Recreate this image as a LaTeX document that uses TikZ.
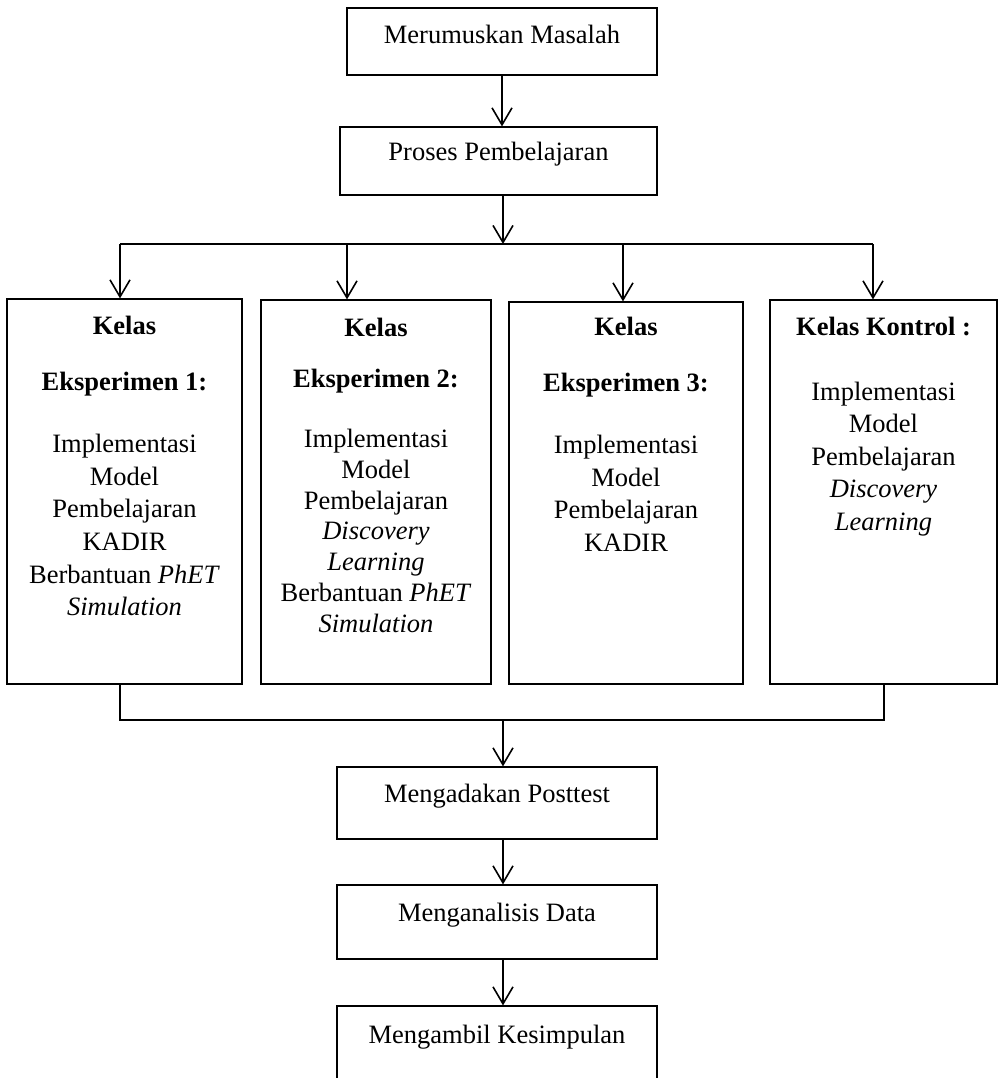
\documentclass[tikz,border=0pt]{standalone}
\usepackage{fontspec}
\setmainfont{Liberation Serif}
\usetikzlibrary{arrows.meta}

\begin{document}
\begin{tikzpicture}[x=0.5pt, y=-0.5pt,
    box/.style={draw, rectangle, line width=0.6pt, inner sep=0pt, font=\fontsize{13.25pt}{16.3pt}\selectfont},
    kelasbox/.style={draw, rectangle, line width=0.6pt, inner sep=0pt},
    isi/.style={anchor=north, inner sep=0pt, align=center, yshift=-8.5pt, font=\fontsize{13.25pt}{16.3pt}\selectfont},
    arr/.style={-{Straight Barb[length=8.5pt, width=10pt]}, line width=0.8pt},
    garis/.style={line width=0.8pt}]
    \useasboundingbox (0,0) rectangle (1003,1078);

    % Top boxes
    \node[box, minimum width=155pt, text height=17.5pt, text depth=16pt] (mas) at (502,41.5) {Merumuskan Masalah};
    \node[box, minimum width=158.5pt, text height=16.5pt, text depth=17.5pt] (pro) at (498.5,161) {Proses Pembelajaran};

    % Class boxes
    \node[kelasbox, minimum width=117.5pt, minimum height=192.5pt] (k1) at (124.5,491.5) {};
    \node[kelasbox, minimum width=115pt, minimum height=192pt] (k2) at (376,492) {};
    \node[kelasbox, minimum width=117pt, minimum height=191pt] (k3) at (626,493) {};
    \node[kelasbox, minimum width=113.5pt, minimum height=192pt] (k4) at (883.5,492) {};

    \node[isi] (t1) at (k1.north) {\textbf{Kelas}\\[11.7pt] \textbf{Eksperimen 1:}\\[15pt] Implementasi\\ Model\\ Pembelajaran\\ KADIR\\ Berbantuan \textit{PhET}\\ \textit{Simulation}};
    \node[isi, yshift=-0.5pt, font=\fontsize{13.25pt}{15.4pt}\selectfont] (t2) at (k2.north) {\textbf{Kelas}\\[10.2pt] \textbf{Eksperimen 2:}\\[14.6pt] Implementasi\\ Model\\ Pembelajaran\\ \textit{Discovery}\\ \textit{Learning}\\ Berbantuan \textit{PhET}\\ \textit{Simulation}};
    \node[isi, yshift=1pt] (t3) at (k3.north) {\textbf{Kelas}\\[11.7pt] \textbf{Eksperimen 3:}\\[15pt] Implementasi\\ Model\\ Pembelajaran\\ KADIR};
    \node[isi] (t4) at (k4.north) {\textbf{Kelas Kontrol :}\\[16.2pt] Implementasi\\ Model\\ Pembelajaran\\ \textit{Discovery}\\ \textit{Learning}};

    % Bottom boxes
    \node[box, minimum width=160pt, text height=17.5pt, text depth=18.5pt] (pos) at (497,803) {Mengadakan Posttest};
    \node[box, minimum width=160pt, text height=18pt, text depth=19pt] (ana) at (497,922) {Menganalisis Data};
    \node[box, minimum width=160pt, text height=18.5pt, text depth=21.5pt] (kes) at (497,1046) {Mengambil Kesimpulan};

    % Branch points
    \coordinate (bagi) at (503,244);
    \coordinate (b1) at (120,244);
    \coordinate (b2) at (347,244);
    \coordinate (b3) at (623,244);
    \coordinate (b4) at (873,244);
    \coordinate (gabung) at (503,720);
    \coordinate (g1) at (120,720);
    \coordinate (g4) at (884,720);

    % Arrows
    \draw[arr] (mas.south) -- (mas.south |- pro.north);
    \draw[arr] (pro.south -| bagi) -- (bagi);
    \draw[garis] (b1) -- (b4);
    \foreach \i in {1,...,4}
        \draw[arr] (b\i) -- (b\i |- k\i.north);
    \draw[garis] (g1 |- k1.south) -- (g1) -- (g4) -- (g4 |- k4.south);
    \draw[arr] (gabung) -- (gabung |- pos.north);
    \draw[arr] (pos.south -| gabung) -- (gabung |- ana.north);
    \draw[arr] (ana.south -| gabung) -- (gabung |- kes.north);
\end{tikzpicture}
\end{document}
